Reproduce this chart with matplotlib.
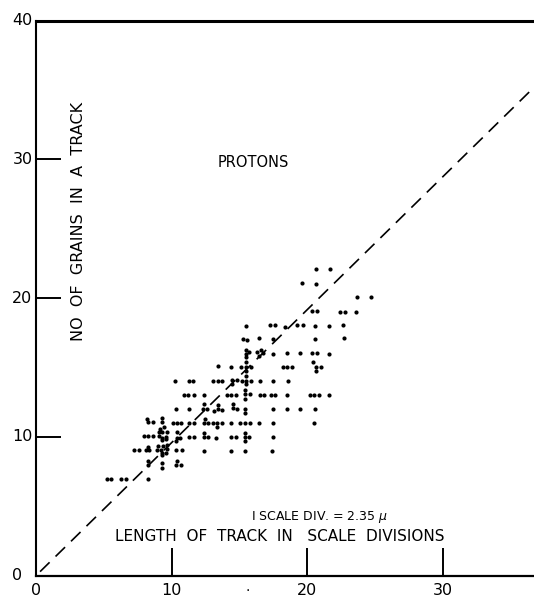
import matplotlib
matplotlib.use('Agg')
import matplotlib.pyplot as plt

# grain counts vs track length
length = [10.25, 11.31, 10.94, 11.23, 10.32, 11.31,
          8.21, 8.26, 8.63, 9.27, 9.31, 10.08, 10.40, 10.69, 11.26,
          9.12, 9.42, 9.05, 9.31, 9.68, 7.96, 8.28, 8.63,
          9.07, 9.27, 9.59, 9.31, 9.56,
          10.42, 10.38, 10.62, 10.32, 11.31,
          7.23, 7.57, 8.13, 8.28, 8.36, 8.90, 9.20,
          9.00, 9.34, 9.64, 9.68, 9.27, 9.59, 9.31, 10.35, 10.74,
          8.28, 8.24, 9.31, 9.31, 10.40, 10.32, 10.69,
          5.21, 5.51, 6.25, 6.61, 8.24,
          14.43, 14.80, 14.48, 15.46, 15.17, 15.46, 15.86, 15.46,
          16.52, 17.50, 13.08, 13.40, 13.74, 11.60,
          11.65, 12.37, 14.06, 14.40, 14.73,
          15.39, 15.39, 15.76, 15.39, 16.50, 16.79, 17.33, 17.65,
          12.39, 12.34, 12.63, 13.40, 13.44, 13.69, 13.13,
          14.51, 14.55, 14.80, 15.41, 15.41, 17.50,
          11.65, 12.46, 12.39, 12.66, 13.03, 13.37, 13.69, 13.35,
          14.38, 15.04, 15.39, 15.78, 16.42, 17.46,
          11.65, 12.39, 12.39, 12.71, 13.27, 14.36, 14.73,
          15.39, 15.39, 15.71, 15.39, 17.50,
          12.39, 14.38, 15.43, 17.40,
          20.63, 18.60, 18.53, 20.16, 20.48, 20.82, 21.61,
          18.53, 19.47, 20.58, 20.50,
          15.46, 17.26, 17.65, 15.29, 15.54, 16.47, 17.48,
          15.49, 15.44, 15.73, 15.49, 16.32, 16.57, 16.72, 16.47, 17.50,
          13.42, 14.40, 15.14, 15.44, 15.46, 15.83, 15.44, 18.19,
          20.65, 21.63, 19.57, 20.65, 23.67, 24.70,
          20.33, 20.70, 22.37, 22.74, 23.58,
          18.36, 19.27, 19.64, 20.58, 21.56, 22.64, 20.58, 22.69,
          18.49, 19.49, 20.33, 20.70, 21.56,
          18.51, 18.86, 20.45, 20.63, 21.00]
grains = [14.0, 14.0, 13.0, 13.0, 12.0, 12.0,
          11.3, 11.05, 11.05, 11.4, 11.05, 11.0, 11.0, 11.0, 11.0,
          10.6, 10.7, 10.35, 10.35, 10.35, 10.1, 10.1, 10.1,
          10.05, 9.95, 10.0, 9.78, 9.83,
          10.33, 9.95, 9.95, 9.7, 10.0,
          9.06, 9.06, 9.06, 9.25, 9.06, 9.06, 9.06,
          9.35, 9.37, 9.42, 9.13, 8.82, 8.86, 8.68, 9.06, 9.06,
          8.29, 7.98, 8.1, 7.78, 8.29, 7.98, 7.98,
          7.0, 7.0, 7.0, 7.0, 7.0,
          14.1, 14.1, 13.8, 14.4, 14.05, 14.05, 14.05, 13.8,
          14.05, 14.05, 14.03, 14.03, 14.03, 14.05,
          13.05, 13.05, 13.05, 13.05, 13.05,
          13.38, 13.07, 13.07, 12.75, 13.05, 13.05, 13.05, 13.05,
          12.35, 12.04, 12.04, 12.3, 12.0, 11.96, 11.85,
          12.35, 12.09, 12.04, 12.04, 11.75, 12.04,
          11.03, 11.27, 11.03, 11.03, 11.03, 11.03, 11.03, 10.74,
          11.03, 11.03, 11.03, 11.03, 11.03, 11.03,
          10.02, 10.3, 10.02, 10.02, 9.95, 10.02, 10.02,
          10.3, 10.02, 10.02, 9.71, 10.02,
          9.0, 9.0, 9.0, 9.0,
          14.75, 14.05, 13.02, 13.02, 13.02, 13.02, 13.02,
          12.0, 12.0, 12.0, 11.03,
          18.0, 18.07, 18.07, 17.05, 17.0, 17.1, 17.05,
          16.29, 16.0, 16.1, 15.76, 16.1, 16.29, 16.05, 15.86, 16.0,
          15.09, 15.04, 15.02, 15.38, 15.06, 15.02, 14.77, 15.04,
          22.08, 22.1, 21.07, 21.02, 20.06, 20.06,
          19.1, 19.1, 19.03, 19.03, 18.98,
          17.95, 18.05, 18.05, 18.02, 17.97, 18.07, 17.06, 17.13,
          16.05, 16.05, 16.05, 16.05, 16.0,
          15.06, 15.06, 15.38, 15.06, 15.06]

line_x = [0.3, 36.7]
line_y = [0.29, 35.2]

xticks = [10, 20, 30]
yticks = [10, 20, 30]
xnums = [0, 10, 20, 30]
ynums = [10, 20, 30, 40]

plt.rcParams['font.family'] = 'DejaVu Sans'

fig = plt.figure(figsize=(5.34, 6.04), dpi=100)
ax = fig.add_axes([0.0674, 0.0469, 0.9326, 0.9188])

ax.plot(line_x, line_y, color='black', lw=1.2, dashes=(8, 5))
ax.plot(length, grains, 'o', color='black', ms=3.0, mew=0)

ax.set_xlim(0, 36.7)
ax.set_ylim(0, 40)

ax.spines['right'].set_visible(False)
ax.spines['top'].set_linewidth(2.2)
ax.spines['left'].set_linewidth(1.5)
ax.spines['bottom'].set_linewidth(1.6)

ax.set_xticks(xticks)
ax.set_yticks(yticks)
ax.set_xticklabels([])
ax.set_yticklabels([])
ax.tick_params(axis='x', direction='in', length=20, width=1.4)
ax.tick_params(axis='y', direction='in', length=18, width=1.4)

# axis numbers as plain text, like the hand lettering
for v in xnums:
    ax.text(v, -1.05, str(v), ha='center', va='center', fontsize=11.5,
            clip_on=False)
for v in ynums:
    ax.text(-0.25, v, str(v), ha='right', va='center', fontsize=11.5,
            clip_on=False)
ax.text(-1.0, 0, '0', ha='right', va='center', fontsize=11.5, clip_on=False)
ax.text(15.6, -0.8, '.', ha='center', va='center', fontsize=10, clip_on=False)

ax.text(16.0, 29.75, 'PROTONS', ha='center', va='center', fontsize=10.5)
ax.text(20.9, 4.2, 'I SCALE DIV. = 2.35 $\\mu$', ha='center', va='center', fontsize=9)
ax.text(18.0, 2.8, 'LENGTH  OF  TRACK  IN   SCALE  DIVISIONS', ha='center',
        va='center', fontsize=11)
ax.text(3.1, 25.5, 'NO  OF  GRAINS  IN  A  TRACK', rotation=90, ha='center',
        va='center', fontsize=11.5)

fig.savefig('out.png', dpi=100)
